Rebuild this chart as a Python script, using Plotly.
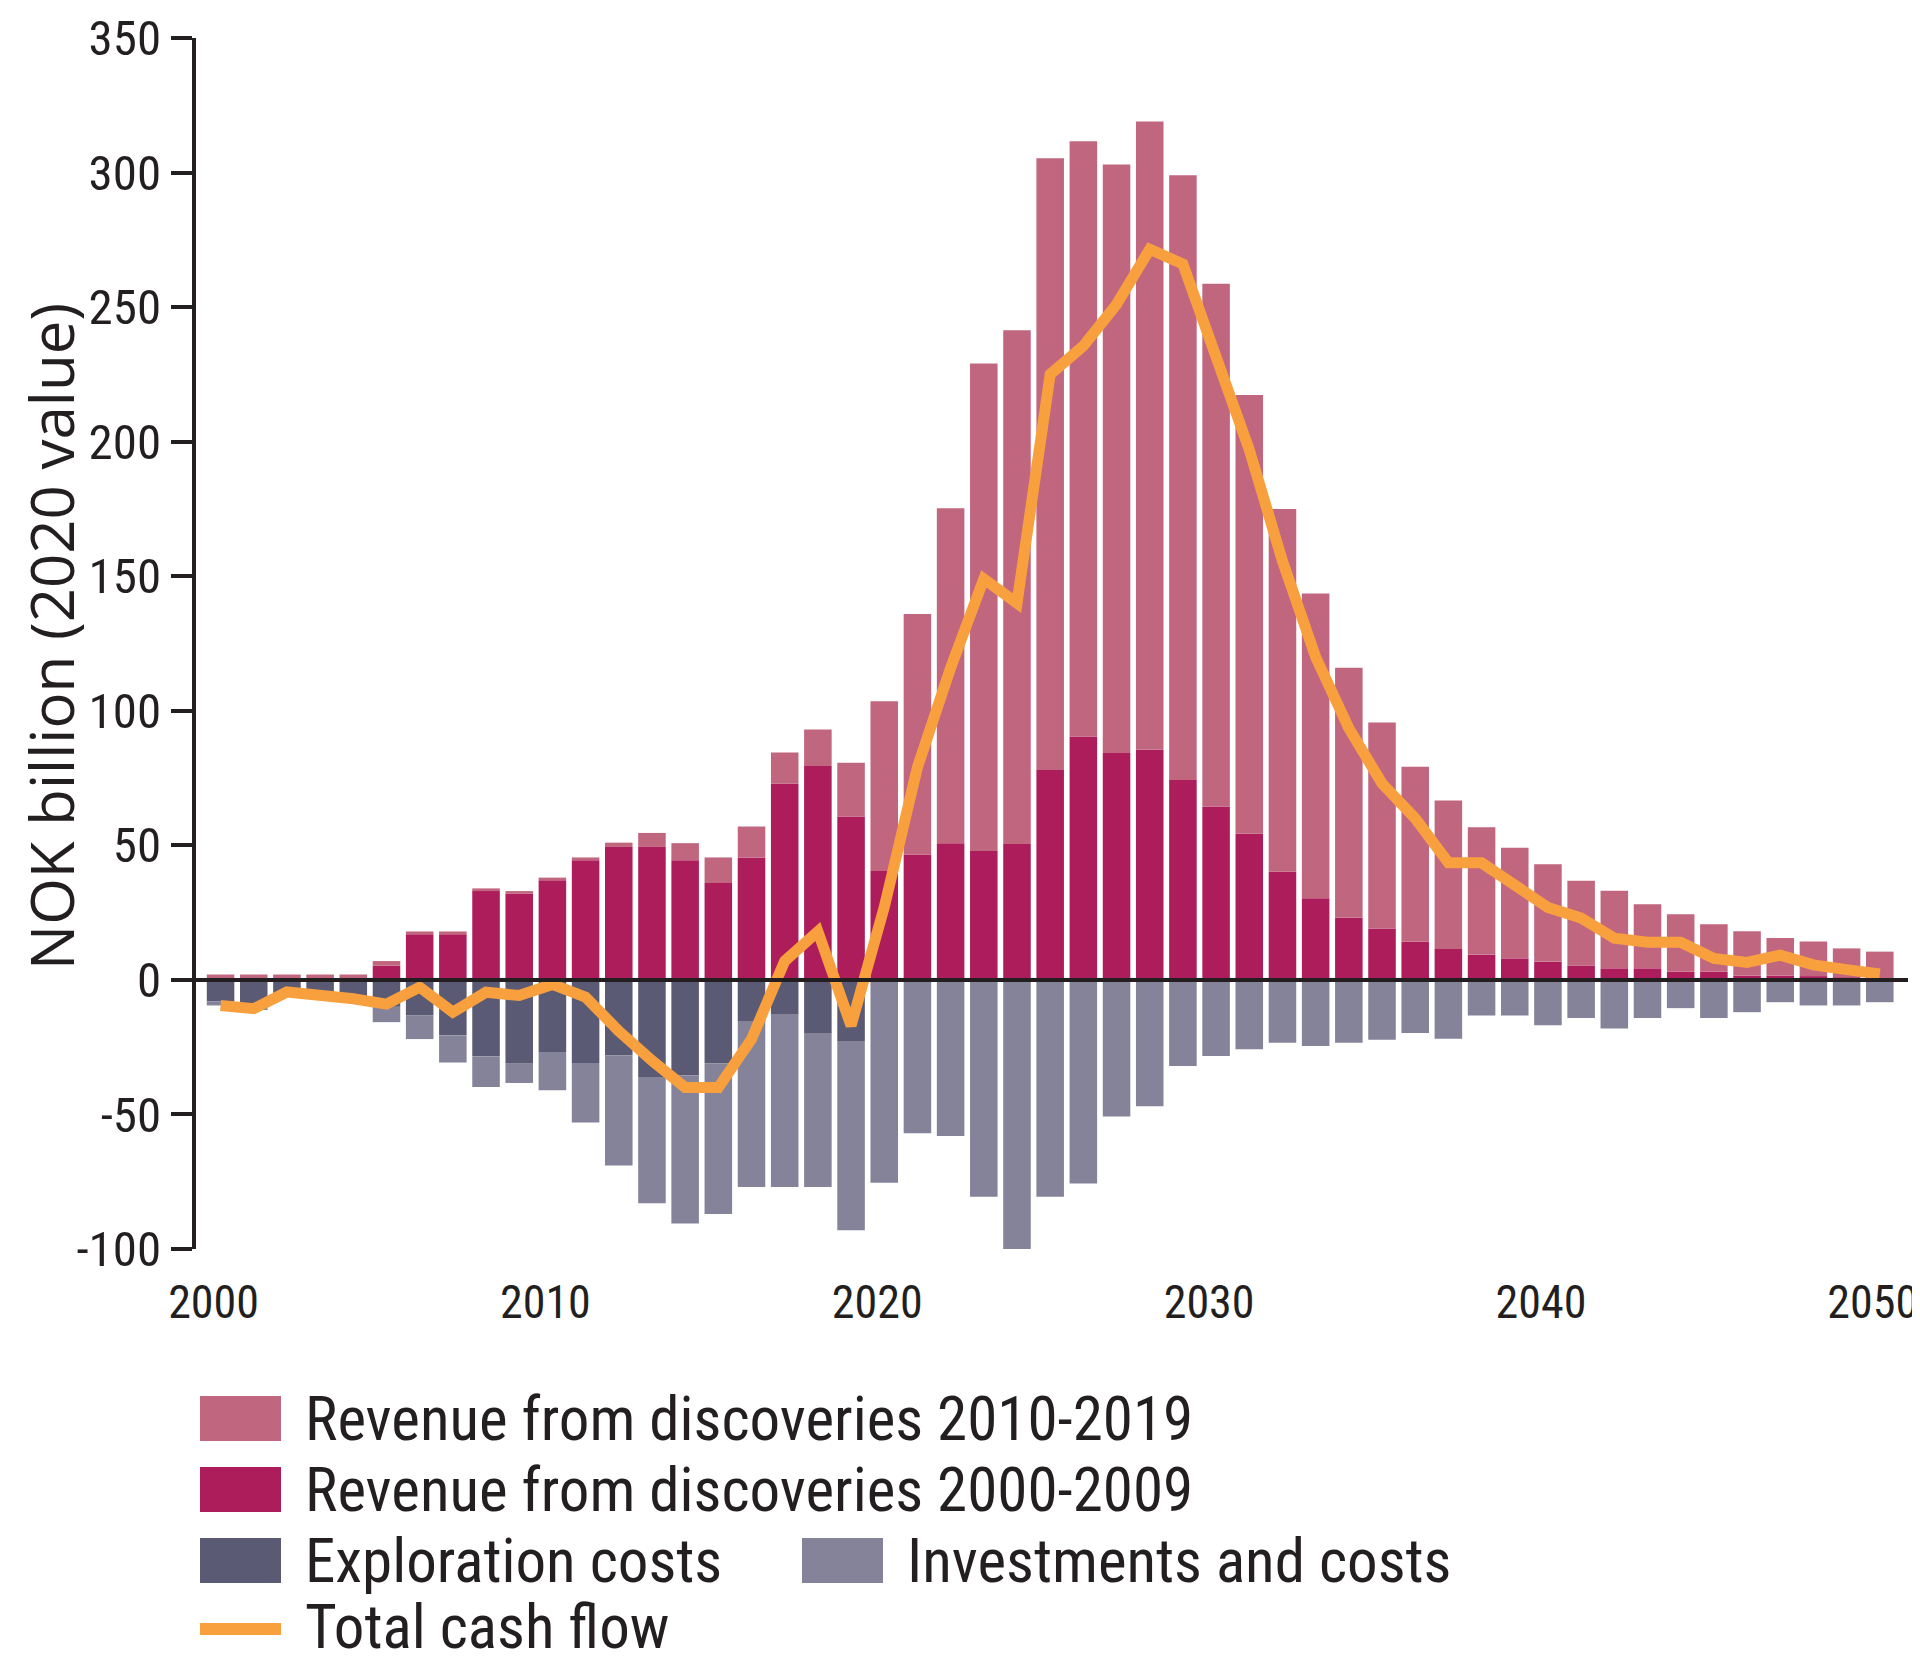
import plotly.graph_objects as go

years = list(range(2000, 2051))

rev_2000_2009 = [0, 0, 0, 0, 0, 5.3, 17, 17, 33, 32,
                 37, 44.5, 49.4, 49.4, 44.5, 36, 45.5, 73, 79.5, 60.7,
                 40.5, 46.6, 50.8, 47.9, 50.5, 78, 90.4, 84.3, 85.5, 74.3,
                 64.4, 54.3, 40.2, 30.3, 23.1, 19.1, 14.2, 11.5, 9.3, 8,
                 6.8, 5.3, 4.3, 4.3, 3.1, 3.1, 1.6, 1.6, 1.4, 1.0, 0.7]

rev_2010_2019 = [2, 2, 2, 2, 2, 1.7, 1, 1, 1, 1,
                 1, 1, 1.6, 5.2, 6.3, 9.5, 11.5, 11.5, 13.5, 20,
                 63, 89.4, 124.5, 181.1, 190.9, 227.3, 221.2, 218.7, 233.5, 224.7,
                 194.3, 163, 134.8, 113.3, 92.9, 76.5, 65, 55.2, 47.4, 41.1,
                 36.2, 31.5, 28.8, 23.8, 21.3, 17.6, 16.5, 14, 12.9, 10.7, 9.8]

exploration = [-8, -10.5, -5, -6, -6.5, -10, -13.2, -20.6, -28.4, -30.9,
               -26.8, -30.9, -28, -36.4, -35.5, -31, -15.6, -13, -20, -23,
               0, 0, 0, 0, 0, 0, 0, 0, 0, 0,
               0, 0, 0, 0, 0, 0, 0, 0, 0, 0,
               0, 0, 0, 0, 0, 0, 0, 0, 0, 0, 0]

investments = [-1.5, -0.5, 0, 0, 0, -5.7, -8.8, -10.1, -11.4, -7.4,
               -14.2, -22.1, -41, -46.6, -55, -56, -61.4, -64, -57, -70,
               -75.4, -57, -58, -80.6, -103.5, -80.6, -75.7, -50.8, -47, -32,
               -28.3, -25.8, -23.4, -24.6, -23.4, -22.2, -19.7, -21.9, -13.2, -13.2,
               -16.9, -14.2, -18.1, -14.2, -10.5, -14.2, -12, -8.3, -9.5, -9.5, -8.3]

cash_flow = [-9.5, -10.7, -4.5, -5.5, -7, -9, -2.7, -12, -4.6, -5.8,
             -1.7, -6.4, -19, -30, -40, -40, -22, 7, 18, -17,
             27, 79, 116, 149, 140, 225, 235.6, 251, 271.5, 266,
             231.5, 197, 155.6, 120, 93.5, 73, 60, 43.5, 43.5, 35.5,
             26.9, 23, 15.5, 14, 14, 8, 6.5, 9.2, 5.6, 3.8, 2.2]

y_ticks = [-100, -50, 0, 50, 100, 150, 200, 250, 300, 350]
y_ticktext = ["-100", "-50", "0", "50", "100", "150", "200", "250", "300", "350"]
x_ticks = [2000, 2010, 2020, 2030, 2040, 2050]

y_title = "NOK billion (2020 value)"
legend_names = ["Revenue from discoveries 2010-2019", "Revenue from discoveries 2000-2009",
                "Exploration costs", "Investments and costs", "Total cash flow"]

C_PINK = "#c1667f"
C_MAGENTA = "#ad1d5b"
C_EXPL = "#5b5a75"
C_INV = "#848399"
C_LINE = "#f9a03e"
C_TEXT = "#231f20"

NARROW = "Liberation Sans Narrow, Roboto Condensed, Arial Narrow, Open Sans, sans-serif"

# the page body adds an 8px margin, so the figure is drawn 8px in from the page corner
OFF = 8
W, H = 1920 - OFF, 1668 - OFF
ML, MR, MT, MB = 188, 12, 30, 419
PW, PH = W - ML - MR, H - MT - MB


def px_x(px):
    return (px - OFF - ML) / PW


def px_y(py):
    return (H - MB - (py - OFF)) / PH


fig = go.Figure()
fig.add_trace(go.Bar(x=years, y=rev_2000_2009, name=legend_names[1],
                     marker=dict(color=C_MAGENTA, line=dict(width=0))))
fig.add_trace(go.Bar(x=years, y=rev_2010_2019, name=legend_names[0],
                     marker=dict(color=C_PINK, line=dict(width=0))))
fig.add_trace(go.Bar(x=years, y=exploration, name=legend_names[2],
                     marker=dict(color=C_EXPL, line=dict(width=0))))
fig.add_trace(go.Bar(x=years, y=investments, name=legend_names[3],
                     marker=dict(color=C_INV, line=dict(width=0))))
fig.add_trace(go.Scatter(x=years, y=cash_flow, name=legend_names[4], mode="lines",
                         line=dict(color=C_LINE, width=11)))

# zero reference line drawn above the bars
fig.add_shape(type="line", xref="paper", yref="y", x0=0, x1=1, y0=0, y1=0,
              line=dict(color=C_TEXT, width=4), layer="above")

# y-axis title placed as rotated text left of the tick labels
fig.add_annotation(xref="paper", yref="paper", x=px_x(51), y=px_y(637), text=y_title,
                   textangle=-90, showarrow=False, xanchor="center", yanchor="middle",
                   borderpad=0, font=dict(family="Open Sans, sans-serif", size=60, color=C_TEXT))

# legend drawn as swatches + text below the chart (page pixel positions)
legend_items = [
    (legend_names[0], C_PINK, 200, 1396, 1441, "box"),
    (legend_names[1], C_MAGENTA, 200, 1467, 1512, "box"),
    (legend_names[2], C_EXPL, 200, 1538, 1583, "box"),
    (legend_names[3], C_INV, 802, 1538, 1583, "box"),
    (legend_names[4], C_LINE, 200, 1623, 1635, "line"),
]
for name, color, x0px, y0px, y1px, kind in legend_items:
    fig.add_shape(type="rect", xref="paper", yref="paper",
                  x0=px_x(x0px), x1=px_x(x0px + 81), y0=px_y(y1px), y1=px_y(y0px),
                  fillcolor=color, line=dict(width=0), layer="above")
    yc = (y0px + y1px) / 2 if kind == "box" else (y0px + y1px) / 2 - 2
    fig.add_annotation(xref="paper", yref="paper", x=px_x(x0px + 103), y=px_y(yc),
                       text=name, showarrow=False, xanchor="left", yanchor="middle",
                       font=dict(family=NARROW, size=61, color=C_TEXT))

fig.update_layout(
    width=W, height=H,
    margin=dict(l=ML, r=MR, t=MT, b=MB, autoexpand=False),
    paper_bgcolor="white", plot_bgcolor="white",
    barmode="relative", bargap=0.17,
    font=dict(family=NARROW, color=C_TEXT, size=50),
    showlegend=False,
)

fig.update_xaxes(range=[1999.26, 2050.85], tickvals=x_ticks, ticks="", showline=False,
                 showgrid=False, zeroline=False, automargin=False,
                 tickfont=dict(family=NARROW, size=46, color=C_TEXT),
                 ticklabelstandoff=22, ticklabelshift=-7, ticklabeloverflow="allow")
fig.update_yaxes(range=[-100, 350], tickvals=y_ticks, ticktext=y_ticktext, ticks="outside",
                 ticklen=21, tickwidth=4, tickcolor=C_TEXT, showline=True, linewidth=4,
                 linecolor=C_TEXT, showgrid=False, zeroline=False, automargin=False,
                 ticklabeloverflow="allow",
                 tickfont=dict(family=NARROW, size=49, color=C_TEXT))

fig.write_html("out.html")
